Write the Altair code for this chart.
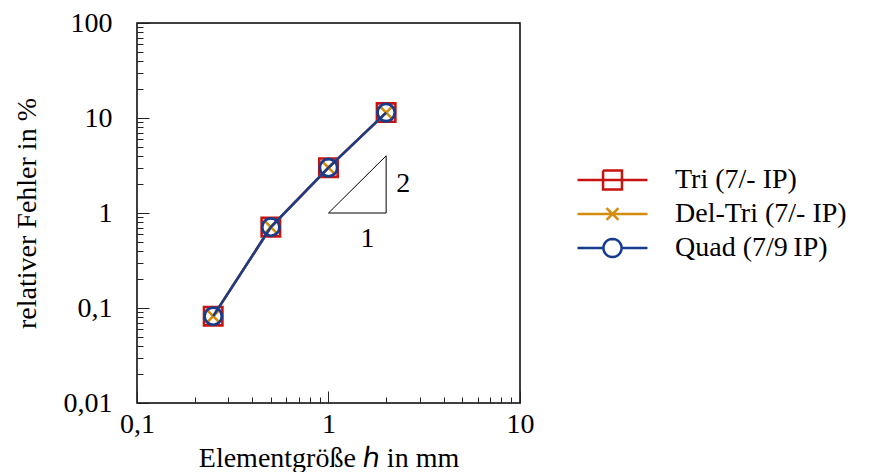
import math
import altair as alt
import pandas as pd

# ---- data ----
h_mm = [0.25, 0.5, 1, 2]
err_tri = [0.082, 0.71, 3.0, 11.4]
err_deltri = [0.082, 0.71, 3.0, 11.4]
err_quad = [0.082, 0.71, 3.0, 11.4]
series = ["Tri (7/- IP)", "Del-Tri (7/- IP)", "Quad (7/9\u2009IP)"]
colors = ["#c81410", "#d48c0c", "#173c8c"]

x_major = [0.1, 1, 10]
x_minor = [0.2, 0.3, 0.4, 0.5, 0.6, 0.7, 0.8, 0.9, 2, 3, 4, 5, 6, 7, 8, 9]
y_major = [0.01, 0.1, 1, 10, 100]
y_minor = [m * d for d in [0.01, 0.1, 1, 10] for m in range(2, 10)]

tri_x = [1, 2, 2, 1]
tri_y = [1, 1, 4, 1]
slope_text = ["1", "2"]
slope_x = [1.6, 2.46]
slope_y = [0.53, 2.02]

FONT = "Liberation Serif"
W, H = 383, 380

rows = []
for s, vals in zip(series, [err_tri, err_deltri, err_quad]):
    for hv, ev in zip(h_mm, vals):
        rows.append({"series": s, "h": hv, "err": ev})
df = pd.DataFrame(rows)
tri_df = pd.DataFrame({"h": tri_x, "err": tri_y, "i": list(range(len(tri_x)))})
lab_df = pd.DataFrame({"h": slope_x, "err": slope_y, "t": slope_text})

xs = alt.Scale(type="log", domain=[0.1, 10], nice=False)
ys = alt.Scale(type="log", domain=[0.01, 100], nice=False)
cs = alt.Scale(domain=series, range=colors)

label_expr = "replace(format(datum.value, '~g'), '.', ',')"

ax_x_main = alt.Axis(orient="bottom", values=x_major, labelExpr=label_expr, ticks=False,
                     domain=False, grid=False, labelPadding=7, labelFontSize=28,
                     labelFlush=False, labelOverlap=False,
                     title="Elementgröße ℎ in mm", titleFontSize=28, titlePadding=6,
                     titleFontWeight="normal")
ax_y_main = alt.Axis(orient="left", values=y_major, labelExpr=label_expr, ticks=False,
                     domain=False, grid=False, labelPadding=25, labelFontSize=28,
                     labelFlush=False, labelOverlap=False,
                     title="relativer Fehler in %", titleFontSize=28, titlePadding=22,
                     titleFontWeight="normal")
ax_x_minor = alt.Axis(orient="top", offset=-H, values=x_minor, labels=False, tickSize=6,
                      domain=False, grid=False, title=None)
ax_y_minor = alt.Axis(orient="right", offset=-W, values=y_minor, labels=False, tickSize=6,
                      domain=False, grid=False, title=None)
ax_x_major = alt.Axis(orient="top", offset=-H, values=x_major, labels=False, tickSize=12,
                      domain=False, grid=False, title=None)
ax_y_major = alt.Axis(orient="right", offset=-W, values=y_major, labels=False, tickSize=12,
                      domain=False, grid=False, title=None)

base = alt.Chart(df)


def enc(xaxis=None, yaxis=None):
    return dict(
        x=alt.X("h:Q", scale=xs, axis=xaxis),
        y=alt.Y("err:Q", scale=ys, axis=yaxis),
    )


def only(s):
    return alt.datum.series == s


line_tri = base.transform_filter(only(series[0])).mark_line(
    strokeWidth=2.5, color=colors[0]).encode(**enc(ax_x_main, ax_y_main))
pts_tri = base.transform_filter(only(series[0])).mark_point(
    shape="square", size=340, filled=False, strokeWidth=2.6, opacity=1,
    color=colors[0]).encode(**enc(ax_x_minor, ax_y_minor))
line_del = base.transform_filter(only(series[1])).mark_line(
    strokeWidth=2.5, color=colors[1]).encode(**enc(ax_x_major, ax_y_major))
pts_del = base.transform_filter(only(series[1])).mark_point(
    shape="M-1,-1L1,1M-1,1L1,-1", size=130, filled=False, strokeWidth=2.6, opacity=1,
    color=colors[1]).encode(**enc())
line_quad = base.transform_filter(only(series[2])).mark_line(
    strokeWidth=2.5, color=colors[2]).encode(**enc())
pts_quad = base.transform_filter(only(series[2])).mark_point(
    shape="circle", size=300, filled=False, strokeWidth=2.8, opacity=1,
    color=colors[2]).encode(**enc())

triangle = alt.Chart(tri_df).mark_line(color="black", strokeWidth=1).encode(
    x=alt.X("h:Q", scale=xs, axis=None),
    y=alt.Y("err:Q", scale=ys, axis=None),
    order="i:O",
)
tri_labels = alt.Chart(lab_df).mark_text(font=FONT, fontSize=28, color="black").encode(
    x=alt.X("h:Q", scale=xs, axis=None),
    y=alt.Y("err:Q", scale=ys, axis=None),
    text="t:N",
)

# legend symbols: line with marker
r = 0.26
circ = "M%.3f,0" % r + "".join(
    "L%.3f,%.3f" % (r * math.cos(2 * math.pi * k / 24), r * math.sin(2 * math.pi * k / 24))
    for k in range(1, 25))
leg_paths = [
    "M-1,0L1,0M-0.27,-0.27L0.27,-0.27L0.27,0.27L-0.27,0.27L-0.27,-0.27",
    "M-1,0L1,0M-0.17,-0.17L0.17,0.17M-0.17,0.17L0.17,-0.17",
    "M-1,0L-0.26,0M0.26,0L1,0" + circ,
]
leg = alt.Legend(title=None, orient="none", legendX=439, legendY=140, clipHeight=34,
                 symbolSize=4900, symbolStrokeWidth=2.5, labelFont=FONT, labelFontSize=28,
                 labelOffset=26, rowPadding=0, padding=0, labelLimit=500,
                 labelColor="black")
legend_layer = base.mark_point(opacity=0, filled=False, strokeWidth=2.5).encode(
    x=alt.X("h:Q", scale=xs, axis=None),
    y=alt.Y("err:Q", scale=ys, axis=None),
    color=alt.Color("series:N", scale=cs, legend=leg),
    shape=alt.Shape("series:N", scale=alt.Scale(domain=series, range=leg_paths), legend=leg),
)

chart = alt.layer(
    line_tri, pts_tri, line_del, pts_del, line_quad, pts_quad,
    triangle, tri_labels, legend_layer,
).resolve_axis(x="independent", y="independent").properties(
    width=W, height=H,
    padding={"left": 5, "top": 1, "right": 0, "bottom": 0},
).configure_view(stroke="black", strokeWidth=1.5).configure_axis(
    labelFont=FONT, titleFont=FONT, labelColor="black", titleColor="black",
    tickColor="#222", tickWidth=1,
)

chart.save("out.html", embed_options={"renderer": "svg", "actions": False})
